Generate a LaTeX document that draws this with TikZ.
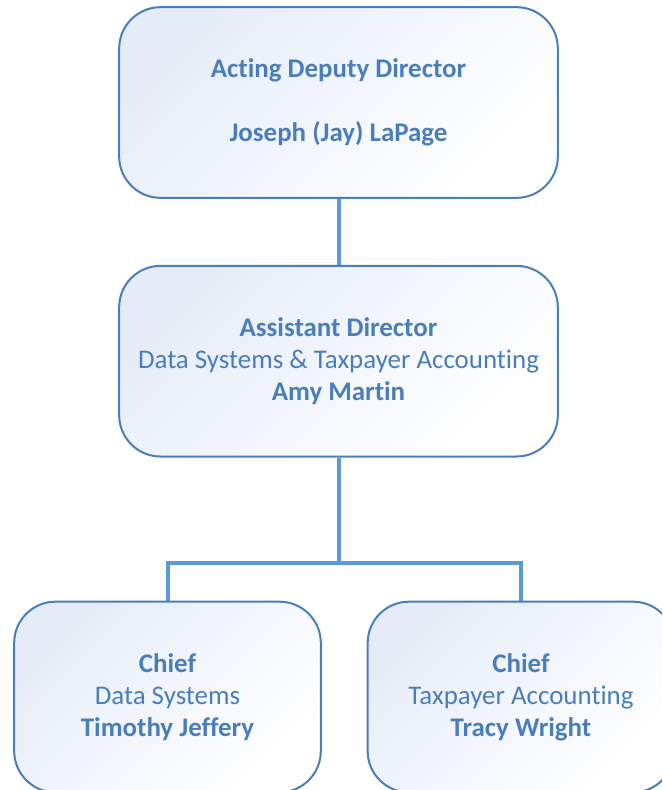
\documentclass[tikz,border=0pt]{standalone}
\usepackage{fontspec}
\setmainfont{Carlito}[Ligatures={NoCommon}]
\usepackage{tikz}
\usetikzlibrary{positioning,backgrounds}
\definecolor{orgtext}{RGB}{74,126,187}
\definecolor{orgline}{RGB}{91,155,213}
\definecolor{orgfill}{RGB}{230,236,247}
\tikzstyle{box} = [draw=orgtext, line width=1.5pt, rounded corners=31pt, top color=orgfill, bottom color=white, shading angle=45, text=orgtext, align=center, font=\fontsize{20.2pt}{24pt}\selectfont]
\tikzstyle{bigbox} = [box, minimum width=329pt, minimum height=143pt]
\tikzstyle{smallbox} = [box, minimum width=230pt, minimum height=143pt]
\tikzstyle{link} = [draw=orgline, line width=3pt]
\newcommand{\nm}[1]{\textbf{#1}}

\begin{document}
\begin{tikzpicture}[x=0.75pt, y=-0.75pt]
            \path[use as bounding box, clip] (0,0) rectangle (662,790);
            \node[bigbox] (deputy) at (338.5,102.5) {\nm{Acting Deputy Director}\\[24pt]\nm{Joseph (Jay) LaPage}};
            \node[bigbox, below=49.5pt of deputy] (assistant) {\nm{Assistant Director}\\ Data Systems \& Taxpayer Accounting\\ \nm{Amy Martin}};
            \node[smallbox] (datasys) at (167.5,697) {\nm{Chief}\\ Data Systems\\ \nm{Timothy Jeffery}};
            \node[smallbox] (taxacct) at (521,697) {\nm{Chief}\\ Taxpayer Accounting\\ \nm{Tracy Wright}};
            \coordinate (fork) at (338.5,563);
            % links behind the boxes
            \begin{scope}[on background layer]
            \path[link] (deputy) -- (assistant);
            \path[link] (assistant) -- (fork);
            \path[link] (fork) -| (datasys);
            \path[link] (fork) -| (taxacct);
            \end{scope}
\end{tikzpicture}
\end{document}
